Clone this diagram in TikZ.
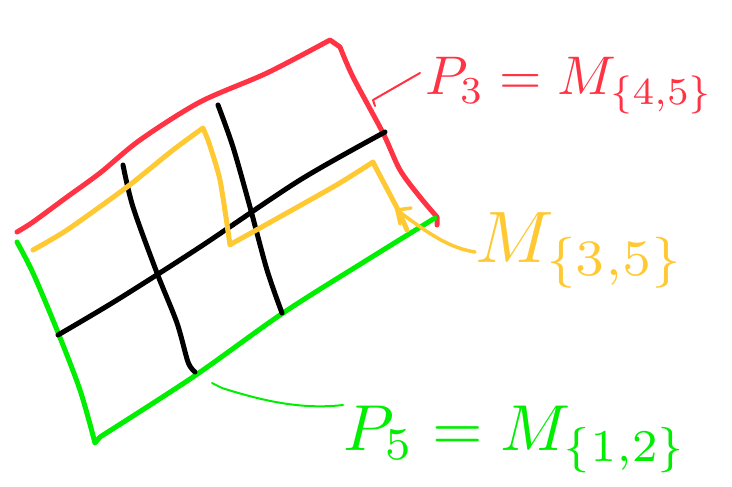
\documentclass[tikz,border=0pt]{standalone}
\usepackage{graphicx}
\usepackage{amsmath}
\definecolor{skred}{HTML}{FF3344}
\definecolor{skyel}{HTML}{FFC933}
\definecolor{skgreen}{HTML}{00EE00}
\newcommand{\biglab}[2]{\scalebox{#1}{#2}}
\begin{document}
\begin{tikzpicture}[x=1pt,y=-1pt,
  pen/.style={line width=5pt,line cap=round,line join=round},
  thinpen/.style={line width=2pt,line cap=round,line join=round},
  lab/.style={anchor=base west,inner sep=0pt}]
\useasboundingbox (0,0) rectangle (732,487);
% red top and right edges
\draw[pen,skred] plot[smooth,tension=0.5] coordinates {(17,232) (33,222) (67,197) (100,173) (140,140) (200,102) (267,73) (330,40)}
  -- (340,47) -- plot[smooth,tension=0.5] coordinates {(340,47) (353,77) (383,133) (400,170) (420,197) (437,217)} -- (437,225);
% green left and bottom edges
\draw[pen,skgreen] plot[smooth,tension=0.5] coordinates {(17,242) (33,273) (57,330) (80,390) (95,443)}
  -- plot[smooth,tension=0.5] coordinates {(100,437) (193,377) (283,313) (367,260) (435,218)};
% black grid lines
\draw[pen,black] plot[smooth,tension=0.5] coordinates {(58,335) (117,300) (200,247) (300,180) (385,132)};
\draw[pen,black] plot[smooth,tension=0.5] coordinates {(123,165) (133,207) (157,273) (177,323) (188,362) (195,372)};
\draw[pen,black] plot[smooth,tension=0.5] coordinates {(218,105) (233,147) (250,207) (267,270) (282,313)};
% yellow path
\draw[pen,skyel] plot[smooth,tension=0.4] coordinates {(33,250) (67,230) (127,187) (173,150) (203,128)}
  -- (208,140) -- plot[smooth,tension=0.4] coordinates {(208,140) (220,180) (230,245)}
  -- (233,243) -- plot[smooth,tension=0.4] coordinates {(233,243) (333,187) (373,162)}
  -- (377,170) -- plot[smooth,tension=0.4] coordinates {(377,170) (397,208) (407,230)};
% labels
\node[lab,skred] (p3) at (425,95) {\biglab{5.45}{$P_3=M_{\{4,5\}}$}};
\node[lab,skyel] (m35) at (475,262) {\biglab{7.3}{$M_{\{3,5\}}$}};
\node[lab,skgreen] (p5) at (343,450) {\biglab{6.5}{$P_5=M_{\{1,2\}}$}};
% connectors
\coordinate (redend) at (373,100);
\coordinate (yelend) at (397,210);
\coordinate (grnend) at (212,383);
\draw[thinpen,skred] (p3.west |- 0,73) ++(-5,0) coordinate (redstart) -- (redend) -- ++(2,6);
\draw[thinpen,skyel,line width=3.5pt] (m35.west |- 0,252) coordinate (ystart)
  .. controls (450,248) and (430,235) .. (yelend);
\draw[thinpen,skyel,line width=3.5pt] (yelend) -- ++(3,14);
\draw[thinpen,skyel,line width=3.5pt] (yelend) -- ++(14,-2);
\draw[thinpen,skgreen] (p5.west |- 0,405) coordinate (gstart)
  .. controls (300,410) and (260,400) .. (222,388) -- (grnend);
\end{tikzpicture}
\end{document}
